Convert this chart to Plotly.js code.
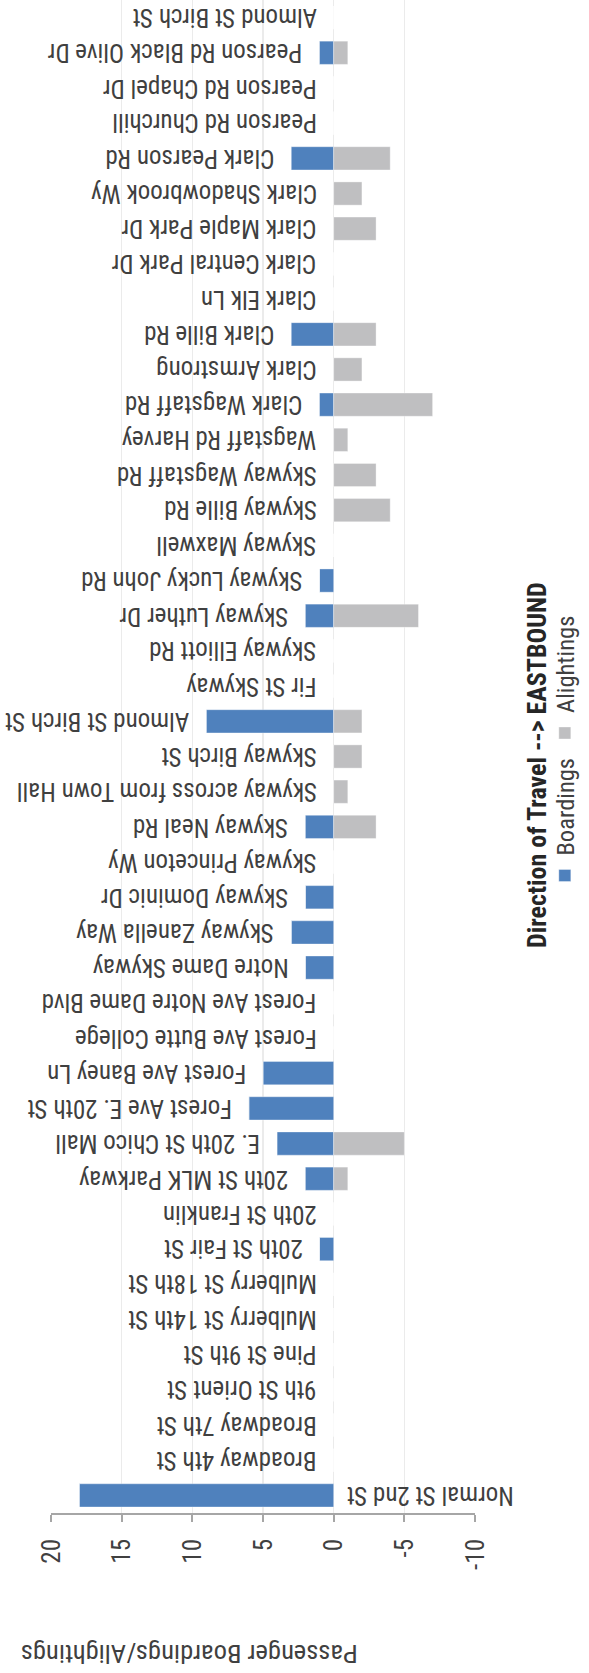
<!DOCTYPE html>
<html>
<head>
<meta charset="utf-8">
<script src="https://cdn.plot.ly/plotly-3.0.1.min.js"></script>
<style>
html, body { margin:0; padding:0; width:589px; height:1673px; overflow:hidden; background:#fff; }
#chart { position:absolute; left:0; top:0; width:1673px; height:589px;
         transform-origin:0 0; transform:translate(0px,1673px) rotate(-90deg); }
</style>
</head>
<body>
<div id="chart"></div>
<script>
// Stops in order of travel (eastbound)
const stops = [
  "Normal St 2nd St", "Broadway 4th St", "Broadway 7th St", "9th St Orient St",
  "Pine St 9th St", "Mulberry St 14th St", "Mulberry St 18th St", "20th St Fair St",
  "20th St Franklin", "20th St MLK Parkway", "E. 20th St Chico Mall", "Forest Ave E. 20th St",
  "Forest Ave Baney Ln", "Forest Ave Butte College", "Forest Ave Notre Dame Blvd", "Notre Dame Skyway",
  "Skyway Zanella Way", "Skyway Dominic Dr", "Skyway Princeton Wy", "Skyway Neal Rd",
  "Skyway across from Town Hall", "Skyway Birch St", "Almond St Birch St", "Fir St Skyway",
  "Skyway Elliott Rd", "Skyway Luther Dr", "Skyway Lucky John Rd", "Skyway Maxwell",
  "Skyway Bille Rd", "Skyway Wagstaff Rd", "Wagstaff Rd Harvey", "Clark Wagstaff Rd",
  "Clark Armstrong", "Clark Bille Rd", "Clark Elk Ln", "Clark Central Park Dr",
  "Clark Maple Park Dr", "Clark Shadowbrook Wy", "Clark Pearson Rd", "Pearson Rd Churchill",
  "Pearson Rd Chapel Dr", "Pearson Rd Black Olive Dr", "Almond St Birch St"
];
const boardings = [
  18, 0, 0, 0, 0, 0, 0, 1, 0, 2, 4, 6, 5, 0, 0, 2, 3, 2, 0, 2, 0, 0, 9, 0,
  0, 2, 1, 0, 0, 0, 0, 1, 0, 3, 0, 0, 0, 0, 3, 0, 0, 1, 0
];
const alightings = [
  0, 0, 0, 0, 0, 0, 0, 0, 0, -1, -5, 0, 0, 0, 0, 0, 0, 0, 0, -3, -1, -2, -2, 0,
  0, -6, 0, 0, -4, -3, -1, -7, -2, -3, 0, 0, -3, -2, -4, 0, 0, -1, 0
];
const seriesNames = ["Boardings", "Alightings"];
const legendTitle = "Direction of Travel --> EASTBOUND";
const axisTitle = "Passenger Boardings/Alightings";
const valueTicks = [20, 15, 10, 5, 0, -5, -10];

const FONT = '"Roboto Condensed", "Open Sans Condensed", "DejaVu Sans Condensed", sans-serif';
const TXT = '#404040';
const pos = stops.map((_, i) => i);

const traces = [
  { type:'bar', name:seriesNames[0], x:pos, y:boardings,
    marker:{color:'#4f81bd', line:{color:'rgba(255,255,255,0.35)', width:1}}, hoverinfo:'skip' },
  { type:'bar', name:seriesNames[1], x:pos, y:alightings,
    marker:{color:'#bfbfc1', line:{color:'rgba(255,255,255,0.35)', width:1}}, hoverinfo:'skip' }
];

const annotations = stops.map((s, i) => {
  const b = boardings[i];
  const below = b > 15;
  return {
    xref:'x', yref:'y', x:i, y: below ? 0 : b,
    text:s, showarrow:false, textangle:-90,
    xanchor:'center', yanchor: below ? 'top' : 'bottom',
    yshift: below ? -11 : 15,
    font:{family:FONT, size:25, color:TXT}
  };
});
// value-axis title
annotations.push({
  xref:'paper', yref:'paper', x:-0.0935, y:0.674,
  text:axisTitle, showarrow:false, textangle:-90,
  xanchor:'center', yanchor:'middle',
  font:{family:FONT, size:26.5, color:TXT}
});
// legend title
annotations.push({
  xref:'paper', yref:'paper', x:0.4947, y:-0.146,
  text:'<b>' + legendTitle + '</b>', showarrow:false,
  xanchor:'center', yanchor:'middle',
  font:{family:FONT, size:26, color:'#262626'}
});

const layout = {
  width:1673, height:589,
  margin:{l:160, r:0, t:51, b:114, pad:0, autoexpand:false},
  barmode:'relative', bargap:0.34,
  paper_bgcolor:'#ffffff', plot_bgcolor:'#ffffff',
  font:{family:FONT, size:25, color:TXT},
  showlegend:true,
  xaxis:{range:[-0.5, 42.5], showticklabels:false, ticks:'', showgrid:false,
         zeroline:false, showline:false, fixedrange:true},
  yaxis:{range:[-10, 20], tickvals:valueTicks, ticktext:valueTicks.map(String),
         showgrid:true, gridcolor:'#ebebeb', gridwidth:1.5, zeroline:false,
         showline:true, linecolor:'#a6a6a6', linewidth:2,
         ticks:'outside', ticklen:7, tickcolor:'#a6a6a6', tickwidth:2,
         ticklabelstandoff:12, tickfont:{family:FONT, size:25, color:TXT}, fixedrange:true},
  legend:{orientation:'h', x:0.5023, xanchor:'center', y:-0.212, yanchor:'middle',
          bgcolor:'rgba(0,0,0,0)', font:{family:FONT, size:24.5, color:TXT}},
  annotations:annotations
};

Plotly.newPlot('chart', traces, layout, {staticPlot:true, displayModeBar:false});
</script>
</body>
</html>
